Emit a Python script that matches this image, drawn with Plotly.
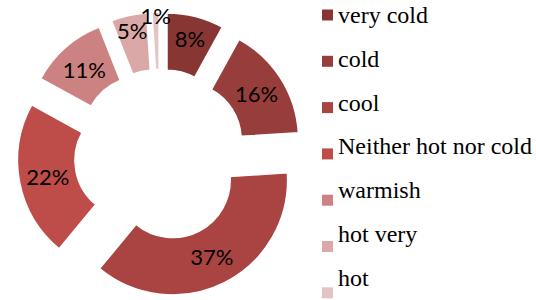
import plotly.graph_objects as go

# ---- data ----
categories = ["very cold", "cold", "cool", "Neither hot nor cold", "warmish", "hot very", "hot"]
percent_values = [8, 16, 37, 22, 11, 5, 1]
slice_colors = ["#883634", "#973D3B", "#A94442", "#BE4C49", "#CC8280", "#DAA8A7", "#E4C4C3"]

W, H = 536, 300

fig = go.Figure()
fig.add_trace(go.Pie(
    labels=categories,
    values=percent_values,
    sort=False,
    direction="clockwise",
    rotation=0,
    hole=0.5,
    pull=[0.245] * len(categories),
    marker=dict(colors=slice_colors, line=dict(color="white", width=1.5)),
    texttemplate="%{value}%",
    textposition="inside",
    insidetextorientation="horizontal",
    textfont=dict(family="Lato", size=22, color="black"),
    showlegend=False,
    domain=dict(x=[17 / W, 303 / W], y=[1 - 298 / H, 1 - 12 / H]),
))

# manual legend (text + square markers)
annotations = []
shapes = []
for i, (lab, col) in enumerate(zip(categories, slice_colors)):
    ty = 15 + i * 43.8
    my = 15 + i * 46.3
    annotations.append(dict(
        x=336 / W, y=1 - ty / H, xref="paper", yref="paper",
        xanchor="left", yanchor="middle", showarrow=False,
        text=lab,
        font=dict(family="Liberation Serif, Times New Roman, Times, serif", size=24, color="black"),
    ))
    shapes.append(dict(
        type="rect", xref="paper", yref="paper",
        x0=322 / W, x1=333 / W, y0=1 - (my + 5.5) / H, y1=1 - (my - 5.5) / H,
        fillcolor=col, line=dict(width=0),
    ))

fig.update_layout(
    width=W, height=H,
    margin=dict(l=0, r=0, t=0, b=0),
    paper_bgcolor="white",
    plot_bgcolor="white",
    annotations=annotations,
    shapes=shapes,
    uniformtext=dict(minsize=22, mode="show"),
)

fig.write_html(
    "out.html",
    config={"displayModeBar": False},
    post_script="document.body.style.margin='0';document.body.style.overflow='hidden';",
)
